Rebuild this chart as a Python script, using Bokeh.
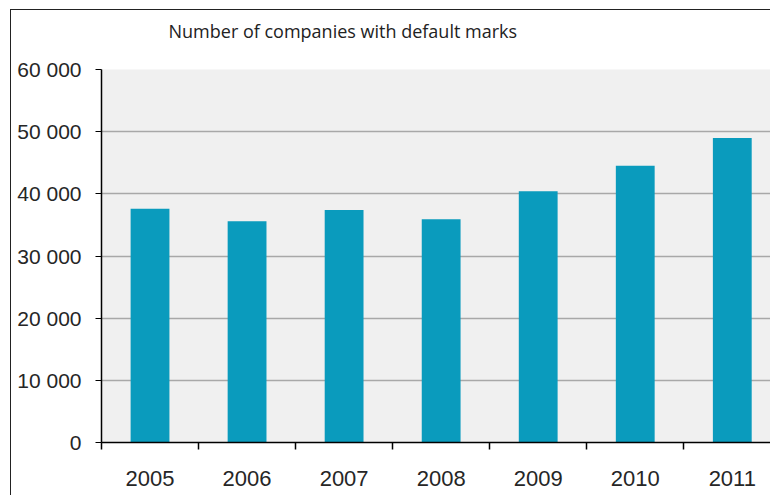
from bokeh.plotting import figure
from bokeh.models import FixedTicker, Range1d, ColumnDataSource
from bokeh.embed import file_html
from bokeh.resources import INLINE

# Data
years = ["2005", "2006", "2007", "2008", "2009", "2010", "2011"]
companies = [37600, 35600, 37400, 35900, 40400, 44500, 49000]
y_ticks = [0, 10000, 20000, 30000, 40000, 50000, 60000]
y_tick_labels = ["0", "10 000", "20 000", "30 000", "40 000", "50 000", "60 000"]
title_text = "Number of companies with default marks"

xpos = [i + 1 for i in range(len(years))]
src = ColumnDataSource(dict(x=xpos, top=companies))

p = figure(width=760, height=486, output_backend="svg", toolbar_location=None,
           x_range=Range1d(0.5, 7.404), y_range=Range1d(0, 60000),
           min_border_left=90, min_border_right=0, min_border_top=59,
           min_border_bottom=54, title=title_text + "\n ")
p.styles = {"margin-left": "10px", "margin-top": "9px",
            "border-left": "1px solid #222222", "border-top": "1px solid #222222"}
p.background_fill_color = "#f0f0f0"
p.border_fill_color = "white"
p.outline_line_color = None

p.title.text_font = "Open Sans"
p.title.text_font_size = "18px"
p.title.text_font_style = "normal"
p.title.text_color = "#222222"
p.title.text_line_height = 0.9
p.title.align = "left"
p.title.offset = 67
p.title.standoff = 10

p.vbar(x="x", top="top", width=0.4, bottom=0, source=src,
       fill_color="#0a9bbd", line_color=None)

# Y axis
p.yaxis.ticker = FixedTicker(ticks=y_ticks)
p.yaxis.major_label_overrides = {t: s for t, s in zip(y_ticks, y_tick_labels)}
p.yaxis.major_label_text_font = "Liberation Sans"
p.yaxis.major_label_text_font_size = "21px"
p.yaxis.major_label_text_color = "#262626"
p.yaxis.axis_line_color = "black"
p.yaxis.axis_line_width = 1.5
p.yaxis.major_tick_line_color = "black"
p.yaxis.major_tick_out = 6
p.yaxis.major_tick_in = 0
p.yaxis.minor_tick_line_color = None
p.yaxis.major_label_standoff = 14

# X axis: labels at category centers, ticks at boundaries (minor ticks)
boundaries = [i + 0.5 for i in range(len(years) + 1)]
p.xaxis.ticker = FixedTicker(ticks=xpos, minor_ticks=boundaries)
p.xaxis.major_label_overrides = {x: y for x, y in zip(xpos, years)}
p.xaxis.major_label_text_font = "Liberation Sans"
p.xaxis.major_label_text_font_size = "22px"
p.xaxis.major_label_text_color = "#262626"
p.xaxis.axis_line_color = "black"
p.xaxis.axis_line_width = 1.5
p.xaxis.major_tick_line_color = None
p.xaxis.minor_tick_line_color = "black"
p.xaxis.minor_tick_line_width = 1.5
p.xaxis.minor_tick_out = 7
p.xaxis.minor_tick_in = 0
p.xaxis.major_label_standoff = 21

# Grid
p.xgrid.grid_line_color = None
p.ygrid.ticker = FixedTicker(ticks=y_ticks)
p.ygrid.grid_line_color = "#a8a8a8"
p.ygrid.grid_line_width = 1.5

open("out.html", "w").write(file_html(p, INLINE))
